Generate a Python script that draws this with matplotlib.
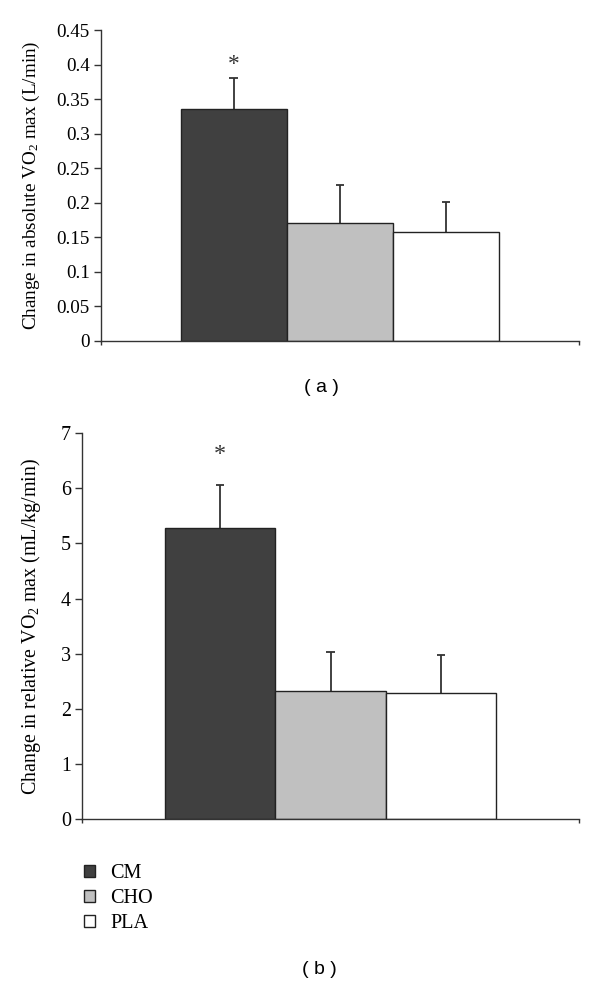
import matplotlib
matplotlib.use("Agg")
import matplotlib.pyplot as plt
from matplotlib.patches import Patch

plt.rcParams['font.family'] = ['Liberation Serif', 'DejaVu Serif']
plt.rcParams['mathtext.fontset'] = 'custom'
plt.rcParams['mathtext.rm'] = 'Liberation Serif'
plt.rcParams['mathtext.it'] = 'Liberation Serif:italic'

groups = ['CM', 'CHO', 'PLA']
colors = ['#404040', '#c0c0c0', '#ffffff']

abs_means = [0.336, 0.171, 0.158]
abs_err = [0.045, 0.054, 0.043]
abs_ticks = [0, 0.05, 0.1, 0.15, 0.2, 0.25, 0.3, 0.35, 0.4, 0.45]
abs_ticklabels = ['0', '0.05', '0.1', '0.15', '0.2', '0.25', '0.3', '0.35', '0.4', '0.45']

rel_means = [5.28, 2.33, 2.28]
rel_err = [0.79, 0.70, 0.70]
rel_ticks = [0, 1, 2, 3, 4, 5, 6, 7]

axis_col = '#333333'


def draw_panel(ax, means, errs, ylim, ticks, ticklabels, ylabel, star_y, fs):
    x = list(range(len(means)))
    ax.bar(x, means, width=1.0, color=colors, edgecolor='#222222', linewidth=1.0, zorder=2)
    tops = [m + e for m, e in zip(means, errs)]
    # upper error bars only, drawn from the bar top
    ax.vlines(x, means, tops, color='#333333', linewidth=1.3, zorder=1)
    ax.hlines(tops, [i - 0.04 for i in x], [i + 0.04 for i in x], color='#333333', linewidth=1.3, zorder=1)
    ax.text(0, star_y, '*', ha='center', va='center', fontsize=fs + 3, color='#333333')
    ax.set_xlim(-1.25, 3.25)
    ax.set_ylim(*ylim)
    ax.set_yticks(ticks)
    ax.set_yticklabels(ticklabels, fontsize=fs)
    ax.set_xticks([-1.25, 3.25])
    ax.set_xticklabels([])
    ax.tick_params(axis='y', direction='out', length=5, width=1, color=axis_col, pad=3)
    ax.tick_params(axis='x', direction='out', length=3, width=1, color=axis_col)
    for s in ['top', 'right']:
        ax.spines[s].set_visible(False)
    for s in ['left', 'bottom']:
        ax.spines[s].set_color(axis_col)
        ax.spines[s].set_linewidth(1.0)
    ax.set_ylabel(ylabel, fontsize=fs)


fig = plt.figure(figsize=(6, 9.84), dpi=100)

ax1 = fig.add_axes([0.168, 0.6535, 0.797, 0.316])
draw_panel(ax1, abs_means, abs_err, (0, 0.45), abs_ticks, abs_ticklabels,
           r'Change in absolute VO$_2$ max (L/min)', 0.40, 13.8)
ax1.yaxis.set_label_coords(-0.123, 0.5)

ax2 = fig.add_axes([0.1367, 0.1677, 0.8283, 0.392])
draw_panel(ax2, rel_means, rel_err, (0, 7), rel_ticks, [str(t) for t in rel_ticks],
           r'Change in relative VO$_2$ max (mL/kg/min)', 6.62, 14.4)
ax2.yaxis.set_label_coords(-0.078, 0.5)

fig.text(0.536, 1 - 387 / 984, '( a )', ha='center', va='center',
         fontsize=14, family=['Liberation Sans', 'DejaVu Sans'])
fig.text(0.533, 1 - 969 / 984, '( b )', ha='center', va='center',
         fontsize=14, family=['Liberation Sans', 'DejaVu Sans'])

handles = [Patch(facecolor=c, edgecolor='#222222', linewidth=1.0) for c in colors]
fig.legend(handles, groups, loc='upper left', bbox_to_anchor=(0.14, 1 - 864 / 984),
           frameon=False, fontsize=14.6, handlelength=0.55, handleheight=0.55,
           handletextpad=0.75, labelspacing=0.3, borderpad=0, borderaxespad=0)

fig.savefig('out.png', dpi=100)
